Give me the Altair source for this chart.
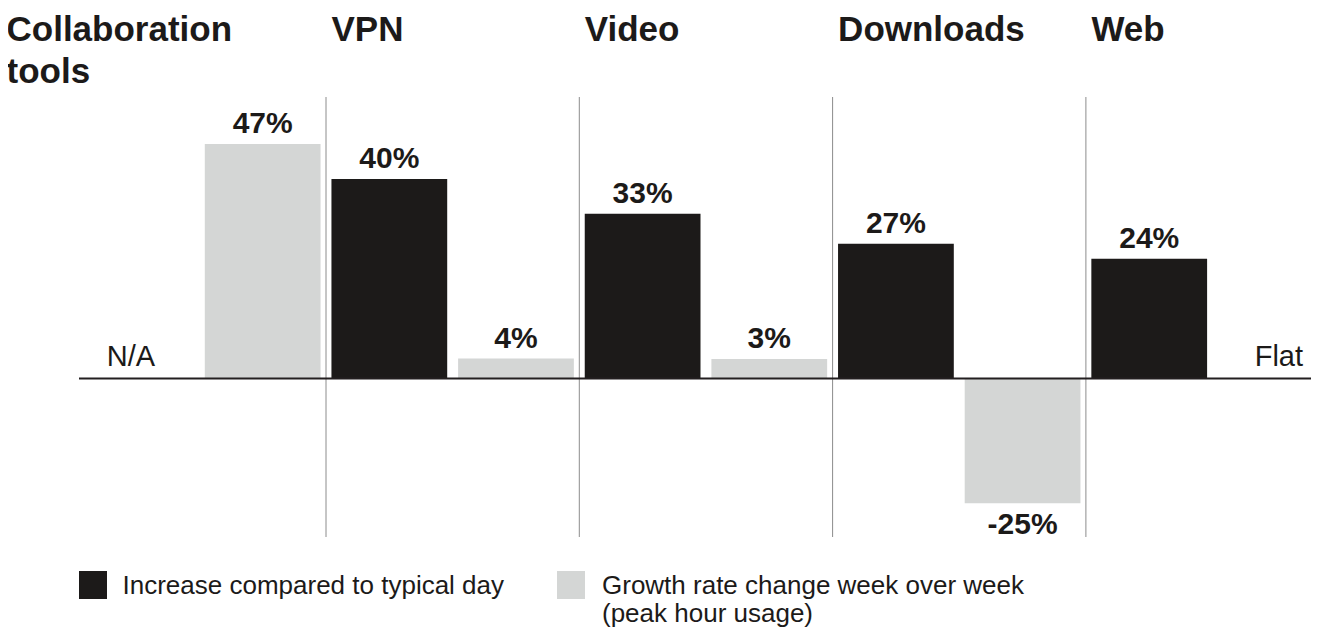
import altair as alt
import pandas as pd

# ---- data ----
categories = ["Collaboration tools", "VPN", "Video", "Downloads", "Web"]
series = [
    "Increase compared to typical day",
    "Growth rate change week over week (peak hour usage)",
]
increase_values = [None, 40, 33, 27, 24]
growth_values = [47, 4, 3.9, -25, 0]
increase_labels = ["N/A", "40%", "33%", "27%", "24%"]
growth_labels = ["47%", "4%", "3%", "-25%", "Flat"]
legend_labels = [
    "Increase compared to typical day",
    "Growth rate change week over week\n(peak hour usage)",
]
colors = ["#1c1a19", "#d4d6d5"]

FONT = "Liberation Sans"
TEXT = "#1c1a19"

rows = []
for i, c in enumerate(categories):
    for s, vals, labs in [
        (series[0], increase_values, increase_labels),
        (series[1], growth_values, growth_labels),
    ]:
        v = vals[i]
        lab = labs[i]
        if lab in ("N/A", "Flat"):
            kind = "text"
        elif v < 0:
            kind = "neg"
        else:
            kind = "pos"
        rows.append({"category": c, "series": s, "value": v, "label": lab, "kind": kind})
df = pd.DataFrame(rows)

W, H = 1232, 440

x_scale = alt.Scale(domain=categories, range=[-6.3, 1260.2], paddingInner=0, paddingOuter=0)
x_enc = alt.X("category:N", scale=x_scale, axis=None)
xo_enc = alt.XOffset("series:N", sort=series,
                     scale=alt.Scale(domain=series, paddingInner=0.086, paddingOuter=0.043))
y_scale = alt.Scale(domain=[-31.76, 56.41], nice=False, zero=False)
y_enc = alt.Y("value:Q", scale=y_scale, axis=None)
color_enc = alt.Color("series:N", scale=alt.Scale(domain=series, range=colors), legend=None)

base = alt.Chart(df)

bars = base.transform_filter("datum.kind != 'text'").mark_bar().encode(
    x=x_enc, xOffset=xo_enc, y=y_enc, y2=alt.datum(0), color=color_enc
)

pos_labels = base.transform_filter("datum.kind == 'pos'").mark_text(
    font=FONT, fontSize=30, fontWeight="bold", dy=-11, baseline="alphabetic",
    align="center", color=TEXT
).encode(x=x_enc, xOffset=xo_enc, y=y_enc, text="label:N")

neg_labels = base.transform_filter("datum.kind == 'neg'").mark_text(
    font=FONT, fontSize=30, fontWeight="bold", dy=30.6, baseline="alphabetic",
    align="center", color=TEXT
).encode(x=x_enc, xOffset=xo_enc, y=y_enc, text="label:N")

na_label = base.transform_filter("datum.label == 'N/A'").mark_text(
    font=FONT, fontSize=29, dy=-12.5, dx=-5, baseline="alphabetic",
    align="center", color=TEXT
).encode(x=x_enc, xOffset=xo_enc, y=alt.YDatum(0, scale=y_scale, axis=None), text="label:N")

flat_label = base.transform_filter("datum.label == 'Flat'").mark_text(
    font=FONT, fontSize=29, dy=-12.5, dx=3, baseline="alphabetic",
    align="center", color=TEXT
).encode(x=x_enc, xOffset=xo_enc, y=alt.YDatum(0, scale=y_scale, axis=None), text="label:N")

zero_rule = alt.Chart(pd.DataFrame({"zero": [0]})).mark_rule(
    color="#231f20", strokeWidth=2
).encode(y=alt.Y("zero:Q", scale=y_scale, axis=None))

sep_df = pd.DataFrame({"category": categories[1:]})
separators = alt.Chart(sep_df).mark_rule(color="#8c8c8c", strokeWidth=1).encode(
    x=alt.X("category:N", scale=x_scale, axis=None, bandPosition=0),
    y=alt.value(0), y2=alt.value(H)
)

headers = alt.Chart(sep_df).mark_text(
    font=FONT, fontSize=35, fontWeight="bold", align="left", baseline="alphabetic",
    dx=5.5, color=TEXT
).encode(
    x=alt.X("category:N", scale=x_scale, axis=None, bandPosition=0),
    y=alt.value(-56), text="category:N"
)

first_header = alt.Chart(pd.DataFrame({"category": categories[:1]})).mark_text(
    font=FONT, fontSize=35, fontWeight="bold", align="left", baseline="alphabetic",
    lineBreak=" ", lineHeight=41.6, color=TEXT
).encode(x=alt.value(-72.5), y=alt.value(-56), text="category:N")

leg_df = pd.DataFrame({"series": series, "label": legend_labels})

leg_sq1 = alt.Chart(leg_df).transform_filter(alt.datum.series == series[0]).mark_rect().encode(
    x=alt.value(0), x2=alt.value(28), y=alt.value(474), y2=alt.value(502), color=color_enc
)
leg_tx1 = alt.Chart(leg_df).transform_filter(alt.datum.series == series[0]).mark_text(
    font=FONT, fontSize=26, align="left", baseline="alphabetic", color=TEXT,
    lineBreak="\n", lineHeight=27.7
).encode(x=alt.value(43.5), y=alt.value(497), text="label:N")

leg_sq2 = alt.Chart(leg_df).transform_filter(alt.datum.series == series[1]).mark_rect().encode(
    x=alt.value(478), x2=alt.value(506), y=alt.value(474), y2=alt.value(502), color=color_enc
)
leg_tx2 = alt.Chart(leg_df).transform_filter(alt.datum.series == series[1]).mark_text(
    font=FONT, fontSize=26, align="left", baseline="alphabetic", color=TEXT,
    lineBreak="\n", lineHeight=27.7
).encode(x=alt.value(523), y=alt.value(497), text="label:N")

chart = alt.layer(
    separators, bars, zero_rule, pos_labels, neg_labels, na_label, flat_label,
    headers, first_header, leg_sq1, leg_tx1, leg_sq2, leg_tx2
).properties(
    width=W, height=H,
    autosize=alt.AutoSizeParams(type="none"),
    padding={"left": 71, "top": 89, "right": 0, "bottom": 91},
    background="white",
).configure_view(stroke=None)

chart.save("out.html", embed_options={"renderer": "svg", "actions": False})
